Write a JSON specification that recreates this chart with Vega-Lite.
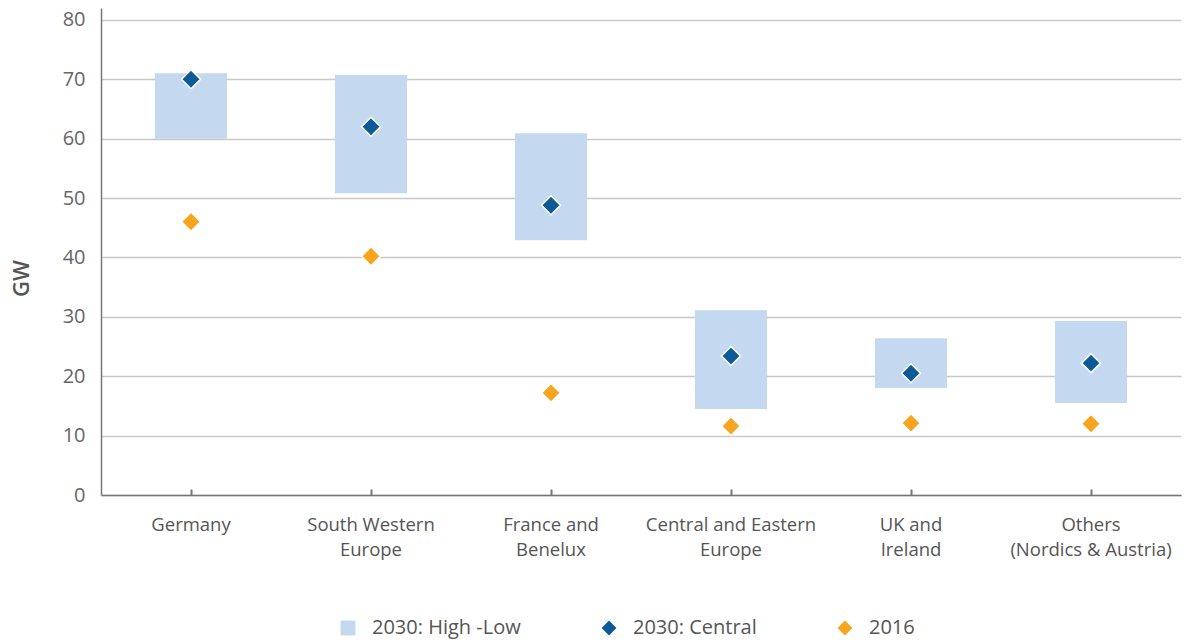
{
  "$schema": "https://vega.github.io/schema/vega-lite/v6.json",
  "width": 1080,
  "height": 487,
  "autosize": {"type": "none"},
  "padding": {"left": 101, "top": 8, "right": 8, "bottom": 147},
  "background": "white",
  "datasets": {
    "ranges": [
      {"region": "Germany", "series": "2030: High -Low", "low": 60.0, "high": 71.0},
      {"region": "South Western|Europe", "series": "2030: High -Low", "low": 50.8, "high": 70.7},
      {"region": "France and|Benelux", "series": "2030: High -Low", "low": 42.9, "high": 60.9},
      {"region": "Central and Eastern|Europe", "series": "2030: High -Low", "low": 14.5, "high": 31.1},
      {"region": "UK and|Ireland", "series": "2030: High -Low", "low": 18.0, "high": 26.4},
      {"region": "Others|(Nordics & Austria)", "series": "2030: High -Low", "low": 15.5, "high": 29.3}
    ],
    "points": [
      {"region": "Germany", "series": "2030: Central", "value": 70.0},
      {"region": "South Western|Europe", "series": "2030: Central", "value": 62.0},
      {"region": "France and|Benelux", "series": "2030: Central", "value": 48.8},
      {"region": "Central and Eastern|Europe", "series": "2030: Central", "value": 23.4},
      {"region": "UK and|Ireland", "series": "2030: Central", "value": 20.5},
      {"region": "Others|(Nordics & Austria)", "series": "2030: Central", "value": 22.2},
      {"region": "Germany", "series": "2016", "value": 46.0},
      {"region": "South Western|Europe", "series": "2016", "value": 40.2},
      {"region": "France and|Benelux", "series": "2016", "value": 17.2},
      {"region": "Central and Eastern|Europe", "series": "2016", "value": 11.6},
      {"region": "UK and|Ireland", "series": "2016", "value": 12.1},
      {"region": "Others|(Nordics & Austria)", "series": "2016", "value": 12.0}
    ]
  },
  "config": {
    "view": {"stroke": null},
    "font": "Open Sans",
    "axis": {"labelFont": "Open Sans", "titleFont": "Open Sans"},
    "legend": {"labelFont": "Open Sans", "symbolOpacity": 1}
  },
  "encoding": {
    "x": {
      "field": "region",
      "type": "nominal",
      "sort": null,
      "scale": {
        "domain": ["Germany", "South Western|Europe", "France and|Benelux", "Central and Eastern|Europe", "UK and|Ireland", "Others|(Nordics & Austria)"],
        "paddingInner": 0,
        "paddingOuter": 0
      },
      "axis": {
        "title": null,
        "labelAngle": 0,
        "labelExpr": "split(datum.label, '|')",
        "labelFontSize": 18.5,
        "labelColor": "#555555",
        "labelLineHeight": 25,
        "labelPadding": 26,
        "labelBaseline": "top",
        "tickSize": -6,
        "tickColor": "#777777",
        "tickWidth": 2,
        "domainColor": "#777777",
        "domainWidth": 1.5,
        "grid": false
      }
    }
  },
  "layer": [
    {
      "data": {"name": "ranges"},
      "mark": {"type": "bar", "width": {"band": 0.4}, "opacity": 1},
      "encoding": {
        "y": {
          "field": "low",
          "type": "quantitative",
          "scale": {"domain": [0, 82], "nice": false},
          "axis": {
            "title": "GW",
            "titleFontSize": 22,
            "titleColor": "#555555",
            "titleFontWeight": 600,
            "titleAngle": -90,
            "titleX": -80,
            "titleY": 270,
            "titleAlign": "center",
            "titleBaseline": "middle",
            "values": [0, 10, 20, 30, 40, 50, 60, 70, 80],
            "labelFontSize": 20,
            "labelColor": "#666666",
            "labelPadding": 16,
            "ticks": false,
            "domainColor": "#777777",
            "domainWidth": 1.5,
            "gridColor": "#c8c8c8",
            "gridWidth": 1.5
          }
        },
        "y2": {"field": "high"},
        "color": {
          "field": "series",
          "type": "nominal",
          "scale": {
            "domain": ["2030: High -Low", "2030: Central", "2016"],
            "range": ["#c4d9ef", "#0d5a96", "#f7a51f"]
          },
          "legend": {
            "title": null,
            "orient": "none",
            "direction": "horizontal",
            "legendX": 237,
            "legendY": 610,
            "labelFontSize": 20,
            "labelColor": "#555555",
            "labelOffset": 14,
            "symbolSize": 220,
            "symbolStrokeWidth": 0,
            "symbolOpacity": 1,
            "columnPadding": 78
          }
        }
      }
    },
    {
      "data": {"name": "points"},
      "mark": {"type": "point", "filled": true, "opacity": 1, "size": 360, "stroke": "white", "strokeWidth": 1.5},
      "encoding": {
        "y": {"field": "value", "type": "quantitative"},
        "color": {"field": "series", "type": "nominal"},
        "shape": {
          "field": "series",
          "type": "nominal",
          "scale": {
            "domain": ["2030: High -Low", "2030: Central", "2016"],
            "range": ["square", "diamond", "diamond"]
          },
          "legend": {
            "title": null,
            "orient": "none",
            "direction": "horizontal",
            "legendX": 237,
            "legendY": 610,
            "labelFontSize": 20,
            "labelColor": "#555555",
            "labelOffset": 14,
            "symbolSize": 220,
            "symbolStrokeWidth": 0,
            "symbolOpacity": 1,
            "columnPadding": 78
          }
        }
      }
    }
  ]
}
